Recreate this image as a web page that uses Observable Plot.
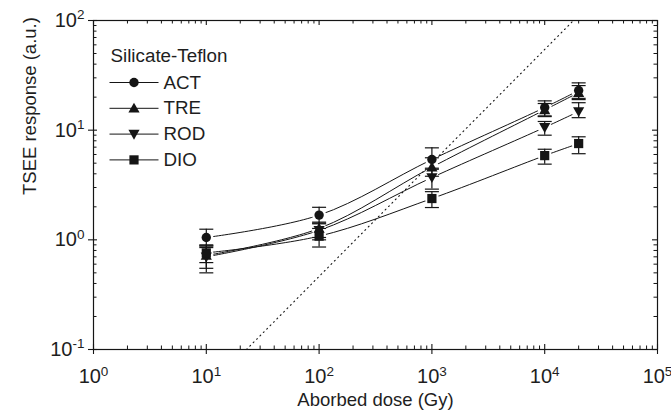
<!DOCTYPE html>
<html><head><meta charset="utf-8">
<script src="https://cdn.jsdelivr.net/npm/d3@7"></script>
<script src="https://cdn.jsdelivr.net/npm/@observablehq/plot@0.6"></script>
<style>body{margin:0;background:#fff} svg{display:block}</style>
</head><body><div id="chart"></div>
<script>
// ---- data ----
const doses = [10, 100, 1000, 10000, 20000];
const seriesNames = ["ACT", "TRE", "ROD", "DIO"];
const actMean = [1.05, 1.68, 5.4, 16.1, 23.0];
const actLow  = [0.88, 1.40, 4.4, 13.5, 19.5];
const actHigh = [1.25, 1.98, 6.9, 18.5, 27.0];
const treMean = [0.72, 1.27, 4.6, 15.3, 22.0];
const treLow  = [0.55, 1.05, 3.8, 13.3, 19.0];
const treHigh = [0.88, 1.45, 5.6, 17.5, 25.5];
const rodMean = [0.70, 1.22, 3.7, 10.6, 14.8];
const rodLow  = [0.50, 1.00, 2.9, 9.0, 13.0];
const rodHigh = [0.85, 1.42, 4.5, 12.0, 17.8];
const dioMean = [0.76, 1.08, 2.38, 5.86, 7.55];
const dioLow  = [0.62, 0.86, 1.97, 4.9, 6.1];
const dioHigh = [0.90, 1.27, 2.75, 6.7, 8.7];
const referenceDose = [22.7, 18000];
const referenceResponse = [0.1, 100];
const xTickValues = [1, 10, 100, 1000, 10000, 100000];
const yTickValues = [0.1, 1, 10, 100];
const legendTitle = "Silicate-Teflon";
const xTitle = "Aborbed dose (Gy)";
const yTitle = "TSEE response (a.u.)";

// ---- build tables ----
const stats = {
  ACT: [actMean, actLow, actHigh],
  TRE: [treMean, treLow, treHigh],
  ROD: [rodMean, rodLow, rodHigh],
  DIO: [dioMean, dioLow, dioHigh]
};
const rows = [];
seriesNames.forEach(s => doses.forEach((d, i) => rows.push({
  series: s, dose: d, mean: stats[s][0][i], low: stats[s][1][i], high: stats[s][2][i]
})));
const refRows = referenceDose.map((d, i) => ({dose: d, response: referenceResponse[i]}));
const xMinor = [], yMinor = [];
[1, 10, 100, 1000, 10000].forEach(b => [2,3,4,5,6,7,8,9].forEach(k => xMinor.push(b * k)));
[0.1, 1, 10].forEach(b => [2,3,4,5,6,7,8,9].forEach(k => yMinor.push(b * k)));

// ---- symbols ----
const hline = w => ({draw(c) { c.moveTo(-w, 0); c.lineTo(w, 0); }});
const symbols = {
  ACT: {draw(c) { c.moveTo(4.7, 0); c.arc(0, 0, 4.7, 0, 2 * Math.PI); }},
  TRE: {draw(c) { c.moveTo(0, -5.6); c.lineTo(5.6, 4.3); c.lineTo(-5.6, 4.3); c.closePath(); }},
  ROD: {draw(c) { c.moveTo(0, 5.6); c.lineTo(5.6, -4.3); c.lineTo(-5.6, -4.3); c.closePath(); }},
  DIO: {draw(c) { c.rect(-4.6, -4.6, 9.2, 9.2); }}
};

const W = 671, H = 415, mL = 93, mR = 14, mT = 20, mB = 66;
const innerW = W - mL - mR, innerH = H - mT - mB;
const ink = "#151515";
const expFormat = d => "10^" + Math.round(Math.log10(d));

const marks = [
  Plot.line(refRows, {x: "dose", y: "response", stroke: ink, strokeWidth: 1.1, strokeDasharray: "1,3.8"}),
  Plot.line(rows, {x: "dose", y: "mean", z: "series", curve: "catmull-rom", stroke: ink, strokeWidth: 1}),
  Plot.dot(rows, {x: "dose", y: "mean", r: 7, fill: "white"}),
  Plot.ruleX(rows, {x: "dose", y1: "low", y2: "high", stroke: ink, strokeWidth: 1.2}),
  Plot.dot(rows, {x: "dose", y: "low", r: 3, symbol: hline(7), stroke: ink, strokeWidth: 1.2, fill: "none"}),
  Plot.dot(rows, {x: "dose", y: "high", r: 3, symbol: hline(7), stroke: ink, strokeWidth: 1.2, fill: "none"}),
  ...seriesNames.map(s => Plot.dot(rows.filter(r => r.series === s), {x: "dose", y: "mean", r: 4.5, symbol: symbols[s], fill: ink, stroke: "none"})),
  Plot.frame({stroke: ink, strokeWidth: 1.2}),
  // ticks
  Plot.tickX(xTickValues, {x: d => d, insetTop: innerH - 5, insetBottom: -5, stroke: ink, strokeWidth: 1.1}),
  Plot.tickX(xTickValues, {x: d => d, insetBottom: innerH - 5, stroke: ink, strokeWidth: 1.1}),
  Plot.tickX(xMinor, {x: d => d, insetTop: innerH - 3.5, stroke: ink, strokeWidth: 1}),
  Plot.tickX(xMinor, {x: d => d, insetBottom: innerH - 3.5, stroke: ink, strokeWidth: 1}),
  Plot.tickY(yTickValues, {y: d => d, insetLeft: -5, insetRight: innerW - 4, stroke: ink, strokeWidth: 1.1}),
  Plot.tickY(yTickValues, {y: d => d, insetLeft: innerW - 5, stroke: ink, strokeWidth: 1.1}),
  Plot.tickY(yMinor, {y: d => d, insetRight: innerW - 3.5, stroke: ink, strokeWidth: 1}),
  Plot.tickY(yMinor, {y: d => d, insetLeft: innerW - 3.5, stroke: ink, strokeWidth: 1}),
  Plot.axisX(xTickValues, {anchor: "bottom", tickSize: 0, tickPadding: 19.5, tickFormat: expFormat, fontSize: 20, label: null}),
  Plot.axisY(yTickValues, {anchor: "left", tickSize: 0, tickPadding: 9, tickFormat: expFormat, fontSize: 20, label: null}),
  Plot.text([xTitle], {frameAnchor: "bottom", dy: 51, lineAnchor: "middle", fontSize: 18.5, text: d => d}),
  Plot.text([yTitle], {frameAnchor: "left", dx: -63, dy: 10, rotate: -90, lineAnchor: "middle", fontSize: 18.5, text: d => d}),
  // legend
  Plot.text([legendTitle], {frameAnchor: "top-left", dx: 17, dy: 35.5, textAnchor: "start", lineAnchor: "middle", fontSize: 18.8, text: d => d}),
  ...seriesNames.flatMap((s, i) => {
    const dy = 62 + i * 25.8;
    return [
      Plot.dot([s], {frameAnchor: "top-left", dx: 40.5, dy, r: 3, symbol: hline(24.5), stroke: ink, strokeWidth: 1, fill: "none"}),
      Plot.dot([s], {frameAnchor: "top-left", dx: 40.5, dy, r: 4.5, symbol: symbols[s], fill: ink, stroke: "none"}),
      Plot.text([s], {frameAnchor: "top-left", dx: 70, dy, textAnchor: "start", lineAnchor: "middle", fontSize: 18.8, text: d => d})
    ];
  })
];

const chart = Plot.plot({
  width: W, height: H,
  marginLeft: mL, marginRight: mR, marginTop: mT, marginBottom: mB,
  x: {type: "log", domain: [1, 100000]},
  y: {type: "log", domain: [0.1, 100]},
  style: {fontFamily: "'Liberation Sans', Arial, Helvetica, sans-serif", color: "#1e1e1e", background: "#fff", overflow: "visible"},
  marks
});

// superscript exponents in tick labels
chart.querySelectorAll("text").forEach(t => {
  const m = /^10\^(-?\d+)$/.exec(t.textContent);
  if (!m) return;
  t.textContent = "";
  const ns = "http://www.w3.org/2000/svg";
  const a = document.createElementNS(ns, "tspan");
  a.textContent = "10";
  const b = document.createElementNS(ns, "tspan");
  b.textContent = m[1];
  b.setAttribute("dy", "-0.55em");
  b.setAttribute("font-size", "13.5");
  t.append(a, b);
});
document.getElementById("chart").append(chart);
</script>
</body></html>
